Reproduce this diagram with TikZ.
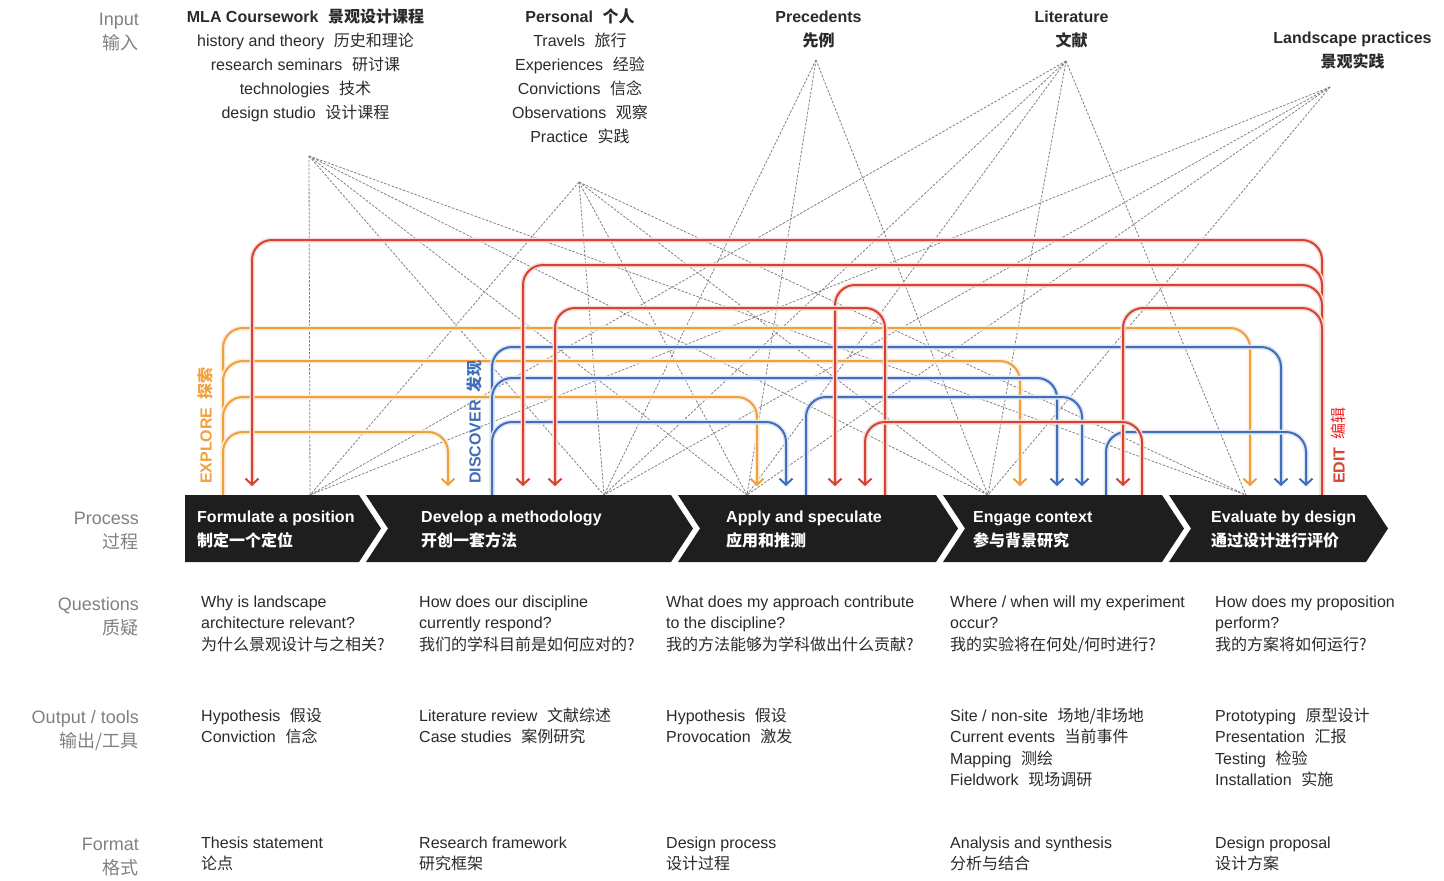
\documentclass[tikz,border=0pt]{standalone}
\usepackage{fontspec}
\setmainfont{Liberation Sans}
\newfontfamily\cjk{Noto Sans CJK SC}
\newcommand{\zh}[1]{{\cjk #1}}
\newcommand{\zhsp}[1]{\hspace{0.6em}{\cjk #1}}
\usetikzlibrary{arrows.meta, positioning, calc}
\definecolor{ExploreOrange}{RGB}{240, 160, 62}
\definecolor{DiscoverBlue}{RGB}{64, 110, 186}
\definecolor{EditRed}{RGB}{212, 68, 48}
\definecolor{EditBright}{RGB}{236, 36, 36}
\definecolor{LabelGrey}{RGB}{128, 128, 128}
\definecolor{BodyDark}{RGB}{42, 42, 42}
\definecolor{StageBlack}{RGB}{30, 30, 30}

\tikzset{
  sidelabel/.style={anchor=base east, align=right, text=LabelGrey, font=\fontsize{18}{24}\selectfont},
  inputhead/.style={anchor=base, align=center, text=BodyDark, font=\fontsize{16}{24}\selectfont},
  cell/.style={anchor=base west, align=left, text=BodyDark, font=\fontsize{16}{21.5}\selectfont},
  stagetext/.style={anchor=base west, align=left, text=white, font=\bfseries\fontsize{16}{24}\selectfont},
  modelabel/.style={rotate=90, anchor=west, text=#1, font=\bfseries\fontsize{16}{16}\selectfont},
  link/.style={draw=black!50, line width=0.8pt, dash pattern=on 2.5pt off 1.5pt},
  flow/.style={draw=#1, line width=2pt, rounded corners=20pt,
    -{Straight Barb[length=6pt, width=13pt]},
    preaction={draw=#1!18, line width=5pt, -}},
  stage/.style={fill=StageBlack},
}

\begin{document}
\begin{tikzpicture}[x=1pt, y=-1pt, inner sep=0pt]
\useasboundingbox (0,0) rectangle (1444,881);

% row labels (placed on the baseline of their last line)
\node[sidelabel] (inlab) at (139,49) {Input\\\zh{输入}};
\node[sidelabel] (proclab) at (139,548) {Process\\\zh{过程}};
\node[sidelabel] (qlab) at (139,634) {Questions\\\zh{质疑}};
\node[sidelabel] (outlab) at (139,747) {Output / tools\\\zh{输出/工具}};
\node[sidelabel] (fmtlab) at (139,874) {Format\\\zh{格式}};

% inputs
\node[inputhead] (mla) at (305.5,118.5) {\textbf{MLA Coursework}\zhsp{\bfseries 景观设计课程}\\history and theory\zhsp{历史和理论}\\research seminars\zhsp{研讨课}\\technologies\zhsp{技术}\\design studio\zhsp{设计课程}};
\node[inputhead] (personal) at (580,142.5) {\textbf{Personal}\zhsp{\bfseries 个人}\\Travels\zhsp{旅行}\\Experiences\zhsp{经验}\\Convictions\zhsp{信念}\\Observations\zhsp{观察}\\Practice\zhsp{实践}};
\node[inputhead] (prec) at (818.5,46.5) {\textbf{Precedents}\\\zh{\bfseries 先例}};
\node[inputhead] (lit) at (1071.5,46.5) {\textbf{Literature}\\\zh{\bfseries 文献}};
\node[inputhead] (land) at (1352.5,67.5) {\textbf{Landscape practices}\\\zh{\bfseries 景观实践}};

% where the input fans start and meet the bar
\coordinate (mlapt) at (309,156);
\coordinate (perspt) at (579,182);
\coordinate (precpt) at (816,60);
\coordinate (litpt) at (1066,61);
\coordinate (landpt) at (1330,87);
\coordinate (t1) at (310,495);
\coordinate (t2) at (604,495);
\coordinate (t3) at (747,495);
\coordinate (t4) at (988,495);
\coordinate (t5) at (1246,495);

\foreach \i in {1,...,5} {
  \draw[link] (mlapt) -- (t\i);
  \draw[link] (perspt) -- (t\i);
  \draw[link] (litpt) -- (t\i);
}
\foreach \i in {2,3,4} \draw[link] (precpt) -- (t\i);
\foreach \i in {1,...,4} \draw[link] (landpt) -- (t\i);

% explore / discover / edit loops
\foreach \lev/\xe in {328/1250, 361/1020, 397/757, 432/448}
  \draw[flow=ExploreOrange] (223,495) |- (\xe,\lev) -- (\xe,486);
\foreach \xs/\lev/\xe in {492/347/1281, 492/378/1057, 492/422/786, 806/397/1082, 1106/432/1306}
  \draw[flow=DiscoverBlue] (\xs,495) |- (\xe,\lev) -- (\xe,486);
\foreach \xs/\lev/\xe in {1322/240/252, 1322/265/523, 1322/285/835, 1322/308/1123, 885/308/555, 1142/422/865}
  \draw[flow=EditRed] (\xs,495) |- (\xe,\lev) -- (\xe,486);

\node[modelabel=ExploreOrange] (explore) at (205.5,484) {EXPLORE\hspace{0.5em}\zh{探索}};
\node[modelabel=DiscoverBlue] (discover) at (474.5,484) {DISCOVER\hspace{0.5em}\zh{发现}};
\node[modelabel=EditRed] (edit) at (1338.5,484) {EDIT\hspace{0.5em}\zh{\mdseries\color{EditBright}编辑}};

% process bar
\fill[stage] (185,495) -- (359,495) -- (381,528.5) -- (359,562) -- (185,562) -- cycle;
\foreach \l/\r in {366/671, 678/936, 943/1162, 1169/1366}
  \fill[stage] (\l,495) -- (\r,495) -- (\r+22,528.5) -- (\r,562) -- (\l,562) -- (\l+22,528.5) -- cycle;

\node[stagetext] (form) at (197,546.5) {Formulate a position\\\zh{制定一个定位}};
\node[stagetext] (dev) at (421,546.5) {Develop a methodology\\\zh{开创一套方法}};
\node[stagetext] (apply) at (726,546.5) {Apply and speculate\\\zh{应用和推测}};
\node[stagetext] (engage) at (973,546.5) {Engage context\\\zh{参与背景研究}};
\node[stagetext] (eval) at (1211,546.5) {Evaluate by design\\\zh{通过设计进行评价}};

% questions
\node[cell] (q1) at (201,650) {Why is landscape\\architecture relevant?\\\zh{为什么景观设计与之相关?}};
\node[cell] (q2) at (419,650) {How does our discipline\\currently respond?\\\zh{我们的学科目前是如何应对的?}};
\node[cell] (q3) at (666,650) {What does my approach contribute\\to the discipline?\\\zh{我的方法能够为学科做出什么贡献?}};
\node[cell] (q4) at (950,650) {Where / when will my experiment\\occur?\\\zh{我的实验将在何处/何时进行?}};
\node[cell] (q5) at (1215,650) {How does my proposition\\perform?\\\zh{我的方案将如何运行?}};

% outputs / tools
\node[cell] (o1) at (201,742.5) {Hypothesis\zhsp{假设}\\Conviction\zhsp{信念}};
\node[cell] (o2) at (419,742.5) {Literature review\zhsp{文献综述}\\Case studies\zhsp{案例研究}};
\node[cell] (o3) at (666,742.5) {Hypothesis\zhsp{假设}\\Provocation\zhsp{激发}};
\node[cell] (o4) at (950,785.5) {Site / non-site\zhsp{场地/非场地}\\Current events\zhsp{当前事件}\\Mapping\zhsp{测绘}\\Fieldwork\zhsp{现场调研}};
\node[cell] (o5) at (1215,785.5) {Prototyping\zhsp{原型设计}\\Presentation\zhsp{汇报}\\Testing\zhsp{检验}\\Installation\zhsp{实施}};

% formats
\node[cell] (f1) at (201,869.5) {Thesis statement\\\zh{论点}};
\node[cell] (f2) at (419,869.5) {Research framework\\\zh{研究框架}};
\node[cell] (f3) at (666,869.5) {Design process\\\zh{设计过程}};
\node[cell] (f4) at (950,869.5) {Analysis and synthesis\\\zh{分析与结合}};
\node[cell] (f5) at (1215,869.5) {Design proposal\\\zh{设计方案}};
\end{tikzpicture}
\end{document}
